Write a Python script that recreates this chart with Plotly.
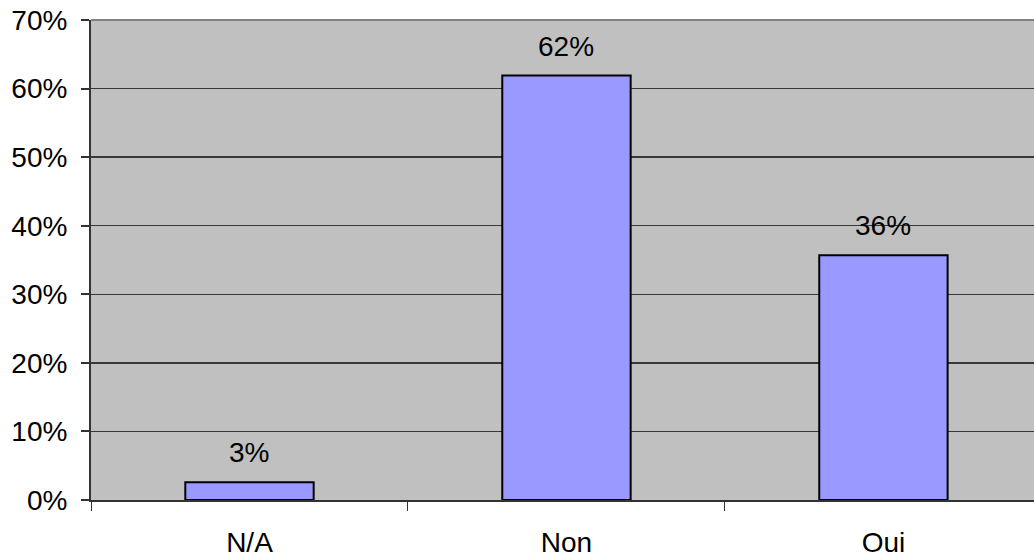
import plotly.graph_objects as go

categories = ["N/A", "Non", "Oui"]
values = [0.026, 0.619, 0.357]
y_ticks = [0, 0.1, 0.2, 0.3, 0.4, 0.5, 0.6, 0.7]
y_tick_labels = ["0%", "10%", "20%", "30%", "40%", "50%", "60%", "70%"]

FONT = "Liberation Sans, Arial, sans-serif"

fig = go.Figure()
fig.add_trace(go.Bar(
    x=categories, y=values,
    marker=dict(color="#9999FF", line=dict(color="#000000", width=2)),
    hoverinfo="skip",
))

for c, v in zip(categories, values):
    fig.add_annotation(x=c, y=v, text=f"{round(v*100)}%", showarrow=False,
                       yanchor="bottom", yshift=12,
                       font=dict(family=FONT, size=28, color="#000000"))

fig.update_layout(
    width=1034, height=559,
    margin=dict(l=91, r=0, t=20, b=59, autoexpand=False),
    paper_bgcolor="#FFFFFF",
    plot_bgcolor="#C0C0C0",
    bargap=0.595,
    showlegend=False,
    font=dict(family=FONT, size=28, color="#000000"),
)
fig.update_xaxes(
    range=[-0.5, 2.475],
    automargin=False,
    tickson="boundaries",
    ticks="outside", ticklen=9, tickwidth=1, tickcolor="#333333",
    showline=True, linecolor="#333333", linewidth=2,
    showgrid=False,
    ticklabelstandoff=16,
    tickfont=dict(family=FONT, size=28, color="#000000"),
)
fig.update_yaxes(
    range=[0, 0.7],
    automargin=False,
    tickvals=y_ticks, ticktext=y_tick_labels,
    ticks="outside", ticklen=8, tickwidth=2, tickcolor="#333333",
    showline=True, linecolor="#333333", linewidth=2,
    showgrid=True, gridcolor="#383838", gridwidth=1.3,
    zeroline=False,
    ticklabelstandoff=8,
    tickfont=dict(family=FONT, size=28, color="#000000"),
)
fig.add_shape(type="line", xref="paper", yref="paper", x0=0, x1=1, y0=1, y1=1,
              line=dict(color="#808080", width=2))

fig.write_html("out.html", config={"displayModeBar": False, "staticPlot": True},
               post_script="document.body.style.margin='0';document.body.style.overflow='hidden';")
